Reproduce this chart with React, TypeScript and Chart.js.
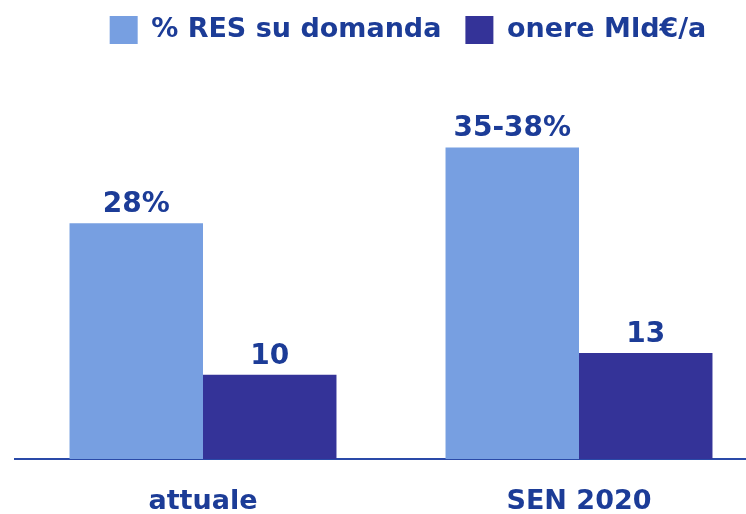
import React, { useEffect, useRef } from "react";
import { Chart, registerables } from "chart.js";

Chart.register(...registerables);

const categories = ["attuale", "SEN 2020"];
const seriesNames = ["% RES su domanda", "onere Mld€/a"];
const resValues = [28, 37];
const onereValues = [10, 12.6];
const resLabels = ["28%", "35-38%"];
const onereLabels = ["10", "13"];

const LIGHT = "#779FE1";
const DARK = "#343398";
const TEXT = "#1C3C97";
const FONT = "'DejaVu Sans', Verdana, sans-serif";

const valueLabelPlugin = {
  id: "valueLabels",
  afterDatasetsDraw(chart: any) {
    const ctx = chart.ctx;
    const labelSets = [resLabels, onereLabels];
    ctx.save();
    ctx.fillStyle = TEXT;
    ctx.font = `bold 28px ${FONT}`;
    ctx.textAlign = "center";
    ctx.textBaseline = "alphabetic";
    chart.data.datasets.forEach((_: any, di: number) => {
      const meta = chart.getDatasetMeta(di);
      meta.data.forEach((bar: any, i: number) => {
        ctx.fillText(labelSets[di][i], bar.x, bar.y - 11);
      });
    });
    ctx.restore();
  },
};

export default function App() {
  const ref = useRef<HTMLCanvasElement>(null);
  useEffect(() => {
    const chart = new Chart(ref.current!, {
      type: "bar",
      data: {
        labels: categories,
        datasets: [
          { label: seriesNames[0], data: resValues, backgroundColor: LIGHT, borderWidth: 0 },
          { label: seriesNames[1], data: onereValues, backgroundColor: DARK, borderWidth: 0 },
        ],
      },
      options: {
        responsive: false,
        animation: false,
        layout: { padding: { left: 15, top: -8, right: 0, bottom: 0 } },
        datasets: { bar: { categoryPercentage: 0.71, barPercentage: 1 } },
        plugins: {
          tooltip: { enabled: false },
          legend: {
            position: "top",
            align: "center",
            labels: {
              boxWidth: 28,
              boxHeight: 28,
              padding: 24,
              color: TEXT,
              font: { family: FONT, size: 27, weight: "bold" },
            },
          },
        },
        scales: {
          x: {
            grid: { display: false, drawTicks: false },
            border: { display: true, color: "#2A4AA8", width: 2 },
            ticks: {
              color: TEXT,
              padding: 27,
              font: { family: FONT, size: 27, weight: "bold" },
            },
            afterFit: (s: any) => {
              s.height = 55;
            },
          },
          y: {
            position: "right",
            min: 0,
            max: 48.1,
            grid: { display: false, drawTicks: false },
            border: { display: false },
            ticks: { display: false },
            afterFit: (s: any) => {
              s.width = 34;
            },
          },
        },
      },
      plugins: [valueLabelPlugin],
    });
    return () => chart.destroy();
  }, []);
  return (
    <div style={{ position: "fixed", left: 0, top: 0, width: 746, height: 514, overflow: "hidden", background: "#fff" }}>
      <canvas ref={ref} width={801} height={514} style={{ display: "block" }} />
    </div>
  );
}
